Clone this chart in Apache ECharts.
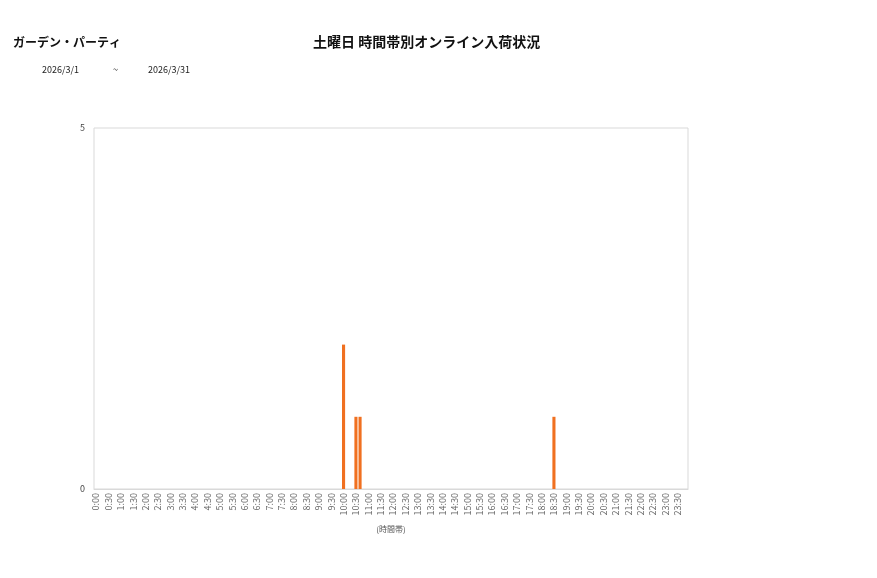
<!DOCTYPE html>
<html>
<head>
<meta charset="utf-8">
<script src="https://cdn.jsdelivr.net/npm/echarts@6/dist/echarts.min.js"></script>
<style>
html, body { margin: 0; padding: 0; background: #fff; }
#chart { width: 877px; height: 578px; }
</style>
</head>
<body>
<div id="chart"></div>
<script>
// 10分刻みの時間帯 (0:00 〜 23:50)
var slots = [];
for (var h = 0; h < 24; h++) {
    for (var m = 0; m < 60; m += 10) {
        slots.push(h + ':' + (m < 10 ? '0' + m : m));
    }
}

// 入荷件数 (読み取った値のみ)
var arrivalSlots = ['10:00', '10:30', '10:40', '18:30'];
var arrivalCounts = [2, 1, 1, 1];

var chartTitle = '土曜日 時間帯別オンライン入荷状況';
var shopName = 'ガーデン・パーティ';
var dateFrom = '2026/3/1';
var dateTo = '2026/3/31';

function buildSeriesData() {
    var arr = [];
    for (var i = 0; i < slots.length; i++) {
        var idx = arrivalSlots.indexOf(slots[i]);
        arr.push(idx >= 0 ? arrivalCounts[idx] : 0);
    }
    return arr;
}

var font = '"Noto Sans CJK JP", "Noto Sans", sans-serif';
var myChart = echarts.init(document.getElementById('chart'));

var option = {
    animation: false,
    backgroundColor: '#fff',
    textStyle: { fontFamily: font },
    title: [
        {
            text: chartTitle,
            left: 313, top: 35, padding: 0,
            textStyle: { fontSize: 14, fontWeight: 'bold', color: '#111', fontFamily: font }
        },
        {
            text: shopName,
            left: 13, top: 36, padding: 0,
            textStyle: { fontSize: 12, fontWeight: 'bold', color: '#111', fontFamily: font }
        },
        {
            text: dateFrom,
            left: 42, top: 65, padding: 0,
            textStyle: { fontSize: 9, fontWeight: 'normal', color: '#222', fontFamily: font }
        },
        {
            text: '~',
            left: 113, top: 65, padding: 0,
            textStyle: { fontSize: 9, fontWeight: 'normal', color: '#222', fontFamily: font }
        },
        {
            text: dateTo,
            left: 148, top: 65, padding: 0,
            textStyle: { fontSize: 9, fontWeight: 'normal', color: '#222', fontFamily: font }
        }
    ],
    grid: {
        left: 94, top: 128, width: 594, height: 361,
        show: true, borderColor: '#d9d9d9', borderWidth: 1
    },
    xAxis: {
        type: 'category',
        data: slots,
        name: '(時間帯)',
        nameLocation: 'middle',
        nameGap: 36,
        nameTextStyle: { fontSize: 8, color: '#555', fontFamily: font },
        axisLine: { lineStyle: { color: '#d9d9d9' } },
        axisTick: { show: false },
        axisLabel: {
            interval: 2,
            rotate: 90,
            fontSize: 9,
            color: '#666',
            margin: 4,
            fontFamily: font
        },
        splitLine: { show: false }
    },
    yAxis: {
        type: 'value',
        min: 0, max: 5, interval: 5,
        axisLine: { show: false },
        axisTick: { show: false },
        splitLine: { show: false },
        axisLabel: { fontSize: 9, color: '#444', margin: 9, fontFamily: font }
    },
    series: [
        {
            type: 'bar',
            data: buildSeriesData(),
            barCategoryGap: '25%',
            itemStyle: { color: '#f07020' }
        }
    ]
};

myChart.setOption(option);
</script>
</body>
</html>
